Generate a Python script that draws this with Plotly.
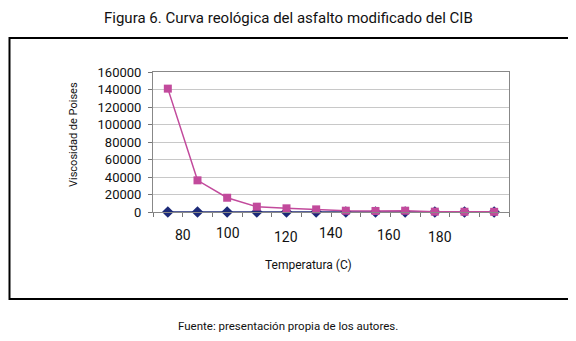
import plotly.graph_objects as go

# ---- data ----
points = list(range(12))  # 12 measured temperatures (category positions)
viscosity_base = [0, 0, 0, 0, 0, 0, 0, 0, 0, 0, 0, 0]
viscosity_mod = [141000, 36200, 16300, 6100, 4200, 3000, 1500, 1200, 1500, 400, 300, 200]
temp_tick_labels = ["80", "100", "120", "140", "160", "180"]

# ---- layout constants ----
OFF = 8  # page body margin
W, H = 576 - OFF, 341 - OFF
L, R, T, B = 153 - OFF, 509 - OFF, 72 - OFF, 212 - OFF
tick_label_pos = [0.5, 2.03, 3.97, 5.5, 7.47, 9.17]
tick_label_y = [235, 233, 237, 233, 235, 237]

FONT = "Roboto, Liberation Sans, sans-serif"
pw, ph = R - L, B - T

def px(x):
    return (x - OFF - L) / pw

def py(y):
    return (B - (y - OFF)) / ph

fig = go.Figure()
fig.add_trace(go.Scatter(
    x=points, y=viscosity_base, mode="lines+markers",
    line=dict(color="#1c2a78", width=1.5),
    marker=dict(symbol="diamond", size=9, color="#1c2a78"),
    cliponaxis=False, showlegend=False))
fig.add_trace(go.Scatter(
    x=points, y=viscosity_mod, mode="lines+markers",
    line=dict(color="#c24a9c", width=1.5),
    marker=dict(symbol="square", size=8, color="#c24a9c"),
    cliponaxis=False, showlegend=False))

annotations = []
for lab, pos, yc in zip(temp_tick_labels, tick_label_pos, tick_label_y):
    annotations.append(dict(x=pos, xref="x", y=py(yc), yref="paper", yanchor="middle",
                            text=lab, showarrow=False,
                            font=dict(family=FONT, size=14, color="#111")))
annotations.append(dict(x=px(308), xref="paper", y=py(265), yref="paper", yanchor="middle",
                        text="Temperatura (C)", showarrow=False,
                        font=dict(family=FONT, size=12, color="#111")))
annotations.append(dict(x=px(73), xref="paper", y=py(135), yref="paper", yanchor="middle",
                        xanchor="center",
                        text="Viscosidad de Poises", showarrow=False, textangle=-90,
                        font=dict(family=FONT, size=11, color="#111")))
annotations.append(dict(x=px(288), xref="paper", y=py(18), yref="paper", yanchor="middle",
                        text="Figura 6. Curva reológica del asfalto modificado del CIB",
                        showarrow=False, font=dict(family=FONT, size=15, color="#111")))
annotations.append(dict(x=px(288), xref="paper", y=py(326), yref="paper", yanchor="middle",
                        text="Fuente: presentación propia de los autores.",
                        showarrow=False, font=dict(family=FONT, size=11.5, color="#111")))

fig.update_layout(
    width=W, height=H,
    margin=dict(l=L, r=W - R, t=T, b=H - B),
    paper_bgcolor="white", plot_bgcolor="white",
    annotations=annotations,
    shapes=[dict(type="rect", xref="paper", yref="paper",
                 x0=px(OFF + 1.5), x1=px(572), y0=py(299), y1=py(38),
                 line=dict(color="black", width=2), layer="below")],
    xaxis=dict(range=[-0.5, 11.5], tickvals=[i - 0.5 for i in range(13)],
               ticktext=[""] * 13, ticks="outside", ticklen=4, tickcolor="#777",
               showgrid=False, zeroline=False, showline=True, linecolor="#888",
               linewidth=1, mirror=True),
    yaxis=dict(range=[0, 160000], dtick=20000, tickformat="d",
               ticks="outside", ticklen=4, tickcolor="#777",
               gridcolor="#c8c8c8", gridwidth=1, zeroline=False,
               showline=True, linecolor="#888", linewidth=1, mirror=True,
               ticklabelstandoff=4,
               tickfont=dict(family=FONT, size=13, color="#111")),
)

fig.write_html("out.html")
